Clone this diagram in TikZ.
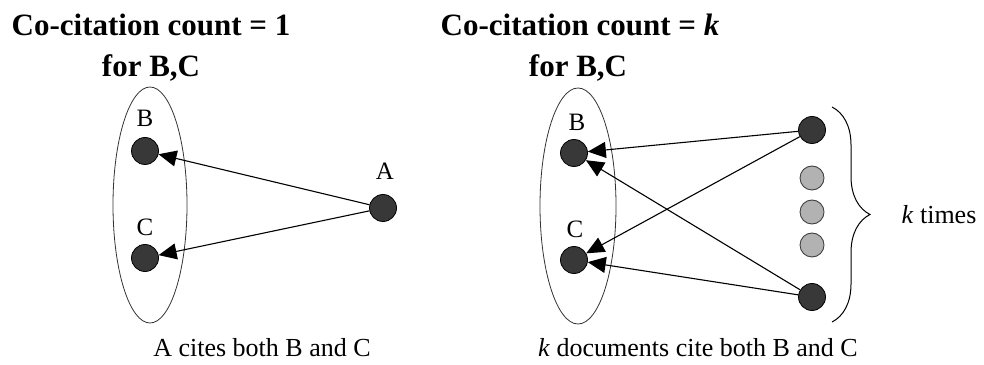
\documentclass[tikz,border=0pt]{standalone}
\usepackage{fontspec}
\setmainfont{Liberation Serif}
\usetikzlibrary{arrows.meta,positioning,decorations.pathreplacing}
\newcommand{\txtsz}{\fontsize{26}{28}\selectfont}
\tikzset{
  >={Triangle[length=18pt,width=16pt]},
  doc/.style   ={circle, draw=black, fill=black!78, line width=0.8pt,
                 minimum size=27pt, inner sep=0pt},
  docg/.style  ={circle, draw=black!75, fill=black!30, line width=0.9pt,
                 minimum size=24pt, inner sep=0pt},
  grp/.style   ={draw=black!80, line width=0.8pt},
  con/.style   ={->, draw, line width=1.1pt},
  lbl/.style   ={font=\fontsize{25}{27}\selectfont, anchor=base, inner sep=0pt},
  ttl/.style   ={font=\fontsize{31}{33}\selectfont\bfseries, anchor=base, inner sep=0pt},
  capt/.style  ={font=\txtsz, anchor=base, inner sep=0pt},
}
\begin{document}
\begin{tikzpicture}[x=1pt,y=1pt]
\useasboundingbox (0,0) rectangle (984,364);
% left: one citing document
\node[ttl] (lt1) at (151,328) {Co-citation count = 1};
\node[ttl] (lt2) at (151,287) {for B,C};
\draw[grp] (150,159) ellipse [x radius=37pt, y radius=118pt];
\node[doc] (lb) at (145,213) {};
\node[doc] (lc) at (145,106) {};
\node[doc] (la) at (383,156) {};
\node[lbl] (lbB) at (145,237) {B};
\node[lbl] (lbC) at (145,128) {C};
\node[lbl] (lbA) at (385,184) {A};
\draw[con] (la) -- (lb);
\draw[con] (la) -- (lc);
\node[capt] (lcap) at (262,8) {A cites both B and C};
% right: k citing documents
\node[ttl] (rt1) at (580,328) {Co-citation count = \textit{k}};
\node[ttl] (rt2) at (578,287) {for B,C};
\draw[grp] (578,158) ellipse [x radius=38pt, y radius=118pt];
\node[doc] (rb) at (574,211) {};
\node[doc] (rc) at (574,104) {};
\node[lbl] (rbB) at (577,233) {B};
\node[lbl] (rcC) at (575,126) {C};
\node[doc]  (rd1) at (812,234) {};
\node[docg] (rg1) at (812,186) {};
\node[docg] (rg2) at (812,152) {};
\node[docg] (rg3) at (812,119) {};
\node[doc]  (rdk) at (812,67) {};
\draw[con] (rd1) -- (rb);
\draw[con] (rd1) -- (rc);
\draw[con] (rdk) -- (rb);
\draw[con] (rdk) -- (rc);
\draw[line width=1pt, decorate, decoration={brace, amplitude=38pt}]
  (832,257) -- (832,42);
\node[font=\txtsz, inner sep=0pt] (ktimes) at (939,149) {\textit{k} times};
\node[capt] (rcap) at (698,8) {\textit{k} documents cite both B and C};
\end{tikzpicture}
\end{document}
